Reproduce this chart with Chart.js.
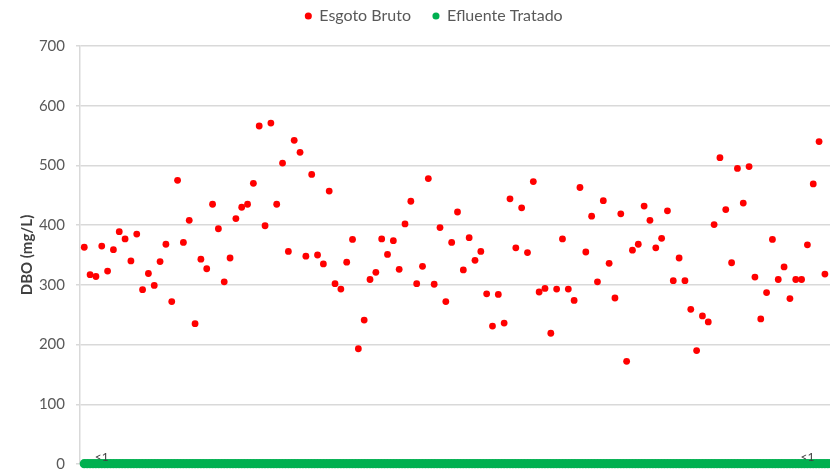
<!DOCTYPE html>
<html>
<head>
<meta charset="utf-8">
<title>DBO – Esgoto Bruto e Efluente Tratado</title>
<script src="https://cdn.jsdelivr.net/npm/chart.js@4/dist/chart.umd.min.js"></script>
<style>
  html, body { margin: 0; padding: 0; background: #ffffff; overflow: hidden; width: 830px; height: 469px; }
  #quadro { position: absolute; left: 0; top: -14px; width: 868px; height: 498px; }
</style>
</head>
<body>
<div id="quadro"><canvas id="grafico"></canvas></div>
<script>
// DBO (mg/L) por amostra – esgoto bruto (afluente)
const esgotoBruto = [
  363, 317, 314, 365, 323, 359, 389, 377, 340, 385,
  292, 319, 299, 339, 368, 272, 475, 371, 408, 235,
  343, 327, 435, 394, 305, 345, 411, 430, 435, 470,
  566, 399, 571, 435, 504, 356, 542, 522, 348, 485,
  350, 335, 457, 302, 293, 338, 376, 193, 241, 309,
  321, 377, 351, 374, 326, 402, 440, 302, 331, 478,
  301, 396, 272, 371, 422, 325, 379, 341, 356, 285,
  231, 284, 236, 444, 362, 429, 354, 473, 288, 294,
  219, 293, 377, 293, 274, 463, 355, 415, 305, 441,
  336, 278, 419, 172, 358, 368, 432, 408, 362, 378,
  424, 307, 345, 307, 259, 190, 248, 238, 401, 513,
  426, 337, 495, 437, 498, 313, 243, 287, 376, 309,
  330, 277, 309, 309, 367, 469, 540, 318
];

// DBO (mg/L) do efluente tratado – todas as análises abaixo do limite (<1)
const efluenteTratado = [
  0.5, 0.5, 0.5, 0.5, 0.5, 0.5, 0.5, 0.5, 0.5, 0.5, 0.5, 0.5, 0.5, 0.5, 0.5, 0.5, 0.5, 0.5, 0.5, 0.5,
  0.5, 0.5, 0.5, 0.5, 0.5, 0.5, 0.5, 0.5, 0.5, 0.5, 0.5, 0.5, 0.5, 0.5, 0.5, 0.5, 0.5, 0.5, 0.5, 0.5,
  0.5, 0.5, 0.5, 0.5, 0.5, 0.5, 0.5, 0.5, 0.5, 0.5, 0.5, 0.5, 0.5, 0.5, 0.5, 0.5, 0.5, 0.5, 0.5, 0.5,
  0.5, 0.5, 0.5, 0.5, 0.5, 0.5, 0.5, 0.5, 0.5, 0.5, 0.5, 0.5, 0.5, 0.5, 0.5, 0.5, 0.5, 0.5, 0.5, 0.5,
  0.5, 0.5, 0.5, 0.5, 0.5, 0.5, 0.5, 0.5, 0.5, 0.5, 0.5, 0.5, 0.5, 0.5, 0.5, 0.5, 0.5, 0.5, 0.5, 0.5,
  0.5, 0.5, 0.5, 0.5, 0.5, 0.5, 0.5, 0.5, 0.5, 0.5, 0.5, 0.5, 0.5, 0.5, 0.5, 0.5, 0.5, 0.5, 0.5, 0.5,
  0.5, 0.5, 0.5, 0.5, 0.5, 0.5, 0.5, 0.5, 0.5, 0.5, 0.5, 0.5, 0.5, 0.5, 0.5, 0.5, 0.5, 0.5, 0.5, 0.5,
  0.5, 0.5, 0.5, 0.5, 0.5, 0.5, 0.5, 0.5, 0.5, 0.5, 0.5, 0.5, 0.5, 0.5, 0.5, 0.5, 0.5, 0.5, 0.5, 0.5,
  0.5, 0.5, 0.5, 0.5, 0.5, 0.5, 0.5, 0.5, 0.5, 0.5, 0.5, 0.5, 0.5, 0.5, 0.5, 0.5, 0.5, 0.5, 0.5, 0.5,
  0.5, 0.5, 0.5, 0.5, 0.5, 0.5, 0.5, 0.5, 0.5, 0.5, 0.5, 0.5, 0.5, 0.5, 0.5, 0.5, 0.5, 0.5, 0.5, 0.5,
  0.5, 0.5, 0.5, 0.5, 0.5, 0.5, 0.5, 0.5, 0.5, 0.5, 0.5, 0.5, 0.5, 0.5, 0.5, 0.5, 0.5, 0.5, 0.5, 0.5,
  0.5, 0.5, 0.5, 0.5, 0.5, 0.5, 0.5, 0.5, 0.5, 0.5, 0.5, 0.5, 0.5, 0.5, 0.5, 0.5, 0.5, 0.5, 0.5, 0.5,
  0.5, 0.5, 0.5, 0.5, 0.5, 0.5, 0.5, 0.5, 0.5, 0.5, 0.5, 0.5, 0.5, 0.5, 0.5, 0.5, 0.5, 0.5, 0.5, 0.5
];

// Rótulo dos resultados abaixo do limite de quantificação
const rotuloTratado = '<1';
const amostrasRotuladas = [6, 248];

// Eixo de DBO
const dboMin = 0;
const dboMax = 700;
const dboPasso = 100;
const tituloEixoY = 'DBO (mg/L)';
const nomesSeries = ['Esgoto Bruto', 'Efluente Tratado'];

// O efluente é amostrado duas vezes por campanha de esgoto bruto
const pontosBruto = esgotoBruto.map((v, i) => ({ x: i + 1, y: v }));
const pontosTratado = efluenteTratado.map((v, i) => ({ x: 1 + i * 0.5, y: v }));

const fonte = 'Lato, "Open Sans", sans-serif';

const rotulosAbaixoLimite = {
  id: 'rotulosAbaixoLimite',
  afterDatasetsDraw(chart) {
    const meta = chart.getDatasetMeta(1);
    const ctx = chart.ctx;
    ctx.save();
    ctx.font = '12px ' + fonte;
    ctx.fillStyle = '#404040';
    ctx.textAlign = 'center';
    ctx.textBaseline = 'alphabetic';
    amostrasRotuladas.forEach(k => {
      const p = meta.data[k];
      if (p) ctx.fillText(rotuloTratado, p.x, p.y - 3);
    });
    ctx.restore();
  }
};

new Chart(document.getElementById('grafico'), {
  type: 'scatter',
  data: {
    datasets: [
      {
        label: nomesSeries[0],
        data: pontosBruto,
        backgroundColor: '#ff0000',
        borderColor: '#ff0000',
        pointRadius: 3.4,
        borderWidth: 0,
        clip: false
      },
      {
        label: nomesSeries[1],
        data: pontosTratado,
        backgroundColor: '#00b050',
        borderColor: '#00b050',
        pointRadius: 4.6,
        borderWidth: 0,
        clip: false
      }
    ]
  },
  options: {
    responsive: true,
    maintainAspectRatio: false,
    animation: false,
    events: [],
    layout: { padding: 0 },
    plugins: {
      tooltip: { enabled: false },
      legend: {
        position: 'top',
        labels: {
          usePointStyle: true,
          pointStyle: 'circle',
          boxWidth: 6,
          boxHeight: 5,
          padding: 22,
          color: '#595959',
          font: { family: fonte, size: 16 }
        }
      },
      // espaço em branco entre a legenda e a área de plotagem
      title: {
        display: true,
        text: ' ',
        position: 'top',
        weight: 500,
        padding: 0,
        font: { family: fonte, size: 12, lineHeight: 1 }
      }
    },
    scales: {
      x: {
        type: 'linear',
        display: false,
        min: 0.27,
        max: 134.6
      },
      y: {
        type: 'linear',
        min: dboMin,
        max: dboMax,
        afterFit(scale) { scale.width = 80; },
        ticks: {
          stepSize: dboPasso,
          color: '#595959',
          padding: 11,
          font: { family: fonte, size: 15 }
        },
        grid: {
          color: '#d9d9d9',
          lineWidth: 1.5,
          tickLength: 4
        },
        border: { color: '#d9d9d9', width: 1.5 },
        title: {
          display: true,
          text: tituloEixoY,
          color: '#404040',
          padding: { top: 18.5, bottom: 0 },
          font: { family: fonte, size: 15, weight: 'bold' }
        }
      }
    }
  },
  plugins: [rotulosAbaixoLimite]
});
</script>
</body>
</html>
